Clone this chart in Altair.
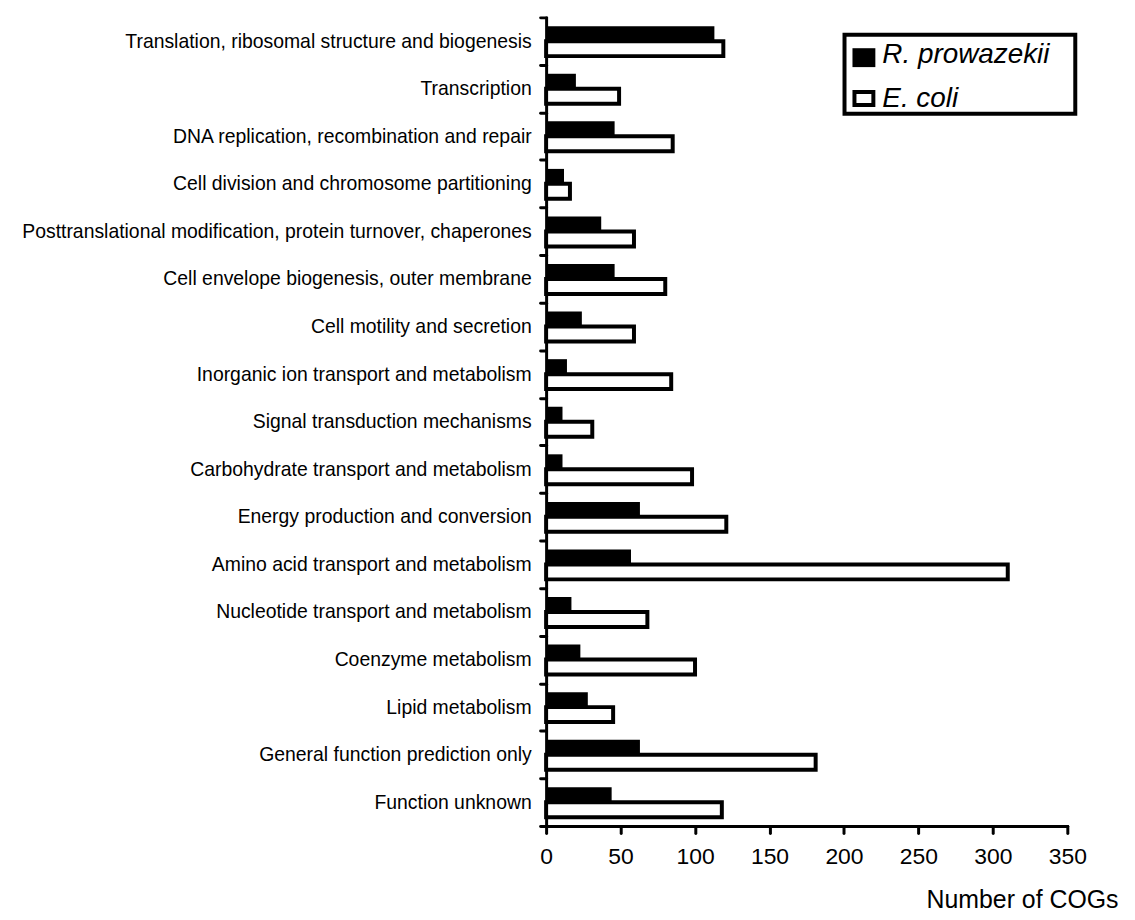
import altair as alt
import pandas as pd

categories = [
    "Translation, ribosomal structure and biogenesis",
    "Transcription",
    "DNA replication, recombination and repair",
    "Cell division and chromosome partitioning",
    "Posttranslational modification, protein turnover, chaperones",
    "Cell envelope biogenesis, outer membrane",
    "Cell motility and secretion",
    "Inorganic ion transport and metabolism",
    "Signal transduction mechanisms",
    "Carbohydrate transport and metabolism",
    "Energy production and conversion",
    "Amino acid transport and metabolism",
    "Nucleotide transport and metabolism",
    "Coenzyme metabolism",
    "Lipid metabolism",
    "General function prediction only",
    "Function unknown",
]
r_prowazekii = [113, 20, 46, 12, 37, 46, 24, 14, 11, 11, 63, 57, 17, 23, 28, 63, 44]
e_coli = [119, 49, 85, 16, 59, 80, 59, 84, 31, 98, 121, 310, 68, 100, 45, 181, 118]
series = ["R. prowazekii", "E. coli"]
x_ticks = [0, 50, 100, 150, 200, 250, 300, 350]
x_title = "Number of COGs"

rows = []
for c, r, e in zip(categories, r_prowazekii, e_coli):
    rows.append({"category": c, "series": series[0], "value": r})
    rows.append({"category": c, "series": series[1], "value": e})
df = pd.DataFrame(rows)

FONT = "Liberation Sans"

bars = alt.Chart(df).mark_bar(stroke="black").encode(
    x=alt.X("value:Q",
            scale=alt.Scale(domain=[0, 350], nice=False, zero=True),
            axis=alt.Axis(values=x_ticks, grid=False, tickSize=7, tickWidth=3,
                          tickCap="round", tickColor="black",
                          domainWidth=3, domainColor="black", domainCap="round",
                          labelFontSize=23, labelFont=FONT, labelColor="black",
                          labelPadding=13, labelFlush=False,
                          title=x_title, titleFont=FONT, titleFontSize=25,
                          titleFontWeight="normal", titleColor="black",
                          titleAlign="right", titleAnchor="end",
                          titleX=575, titleY=82, titleBaseline="alphabetic")),
    y=alt.Y("category:N", sort=categories,
            scale=alt.Scale(paddingInner=0, paddingOuter=0),
            axis=alt.Axis(title=None, tickBand="extent", tickSize=6, tickWidth=3,
                          tickCap="round", tickColor="black",
                          domainWidth=3, domainColor="black", domainCap="round",
                          labelFontSize=19.5, labelFont=FONT, labelColor="black",
                          labelPadding=9, labelLimit=0)),
    yOffset=alt.YOffset("series:N", sort=series,
                        scale=alt.Scale(domain=series, paddingInner=0, paddingOuter=0.59)),
    fill=alt.Fill("series:N", scale=alt.Scale(domain=series, range=["black", "white"]), legend=None),
    strokeWidth=alt.StrokeWidth("series:N", scale=alt.Scale(domain=series, range=[0, 4]), legend=None),
)

legend_box = alt.Chart(pd.DataFrame({"a": [0]})).mark_rect(
    fill="white", stroke="black", strokeWidth=4
).encode(x=alt.value(300), x2=alt.value(532), y=alt.value(17.5), y2=alt.value(97))

sq1 = alt.Chart(pd.DataFrame({"a": [0]})).mark_rect(fill="black").encode(
    x=alt.value(308), x2=alt.value(331), y=alt.value(31), y2=alt.value(50))
sq2 = alt.Chart(pd.DataFrame({"a": [0]})).mark_rect(fill="white", stroke="black", strokeWidth=4).encode(
    x=alt.value(310), x2=alt.value(329), y=alt.value(75), y2=alt.value(88))

t1 = alt.Chart(pd.DataFrame({"t": [series[0]]})).mark_text(
    align="left", baseline="alphabetic", font=FONT, fontSize=28, fontStyle="italic", color="black"
).encode(x=alt.value(338), y=alt.value(46), text="t:N")
t2 = alt.Chart(pd.DataFrame({"t": [series[1]]})).mark_text(
    align="left", baseline="alphabetic", font=FONT, fontSize=28, fontStyle="italic", color="black"
).encode(x=alt.value(338), y=alt.value(90), text="t:N")

chart = alt.layer(bars, legend_box, sq1, sq2, t1, t2).properties(
    width=524, height=813,
    autosize=alt.AutoSizeParams(type="none"),
    padding={"left": 541, "top": 7, "right": 60, "bottom": 84},
).configure_view(stroke=None)

chart.save("out.html", embed_options={"renderer": "svg", "actions": False})
